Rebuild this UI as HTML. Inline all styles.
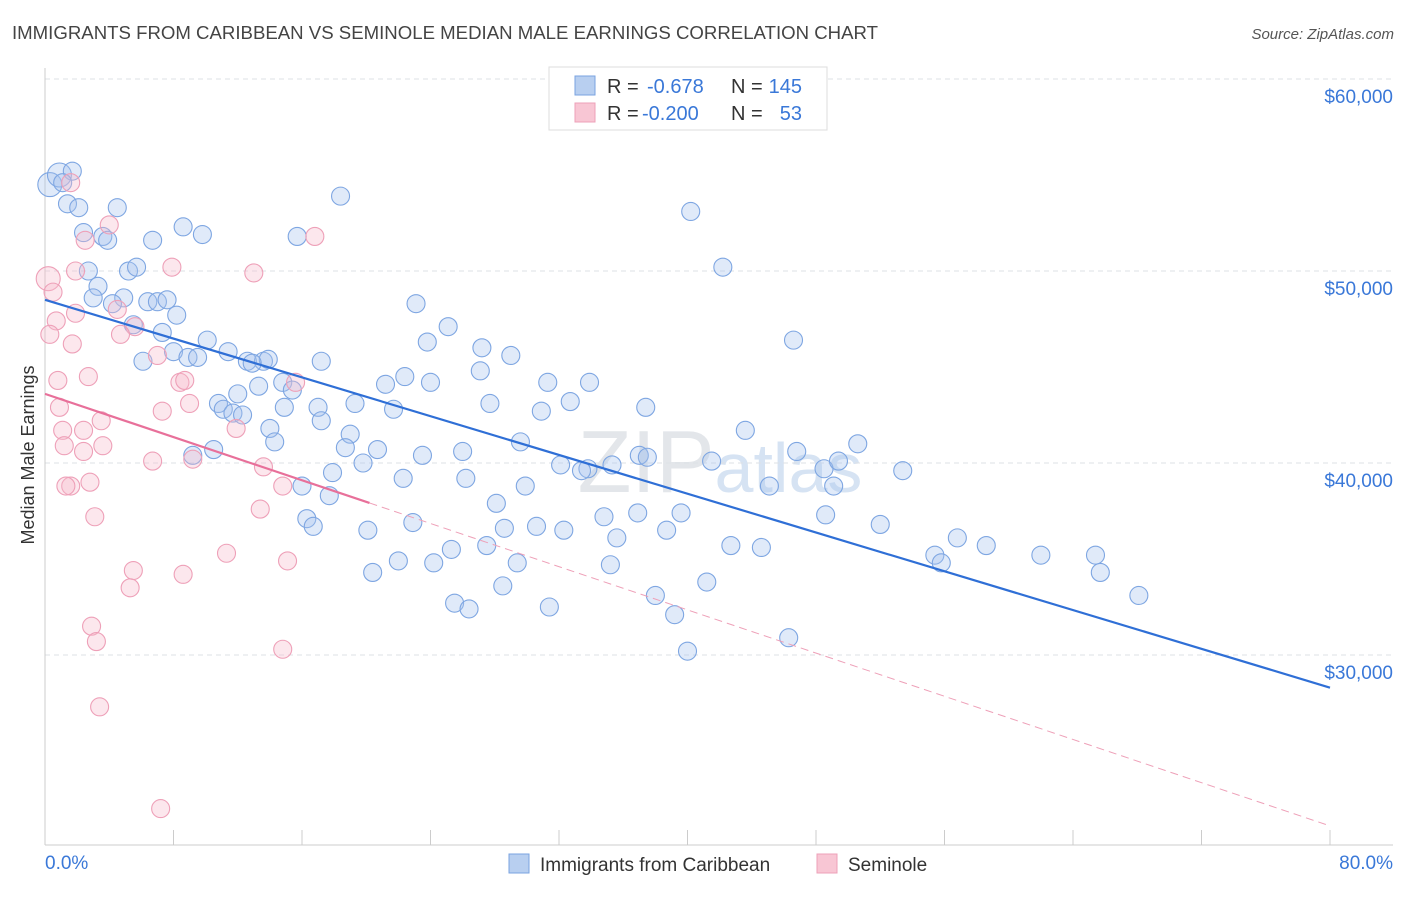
<!DOCTYPE html>
<html><head><meta charset="utf-8">
<style>
body{margin:0;background:#fff;font-family:"Liberation Sans",sans-serif;}
svg text{font-family:"Liberation Sans",sans-serif;}
</style></head><body>
<svg id="chart" width="1406" height="892" xmlns="http://www.w3.org/2000/svg">
<text x="12" y="39" font-size="18" fill="#444" textLength="866" lengthAdjust="spacingAndGlyphs">IMMIGRANTS FROM CARIBBEAN VS SEMINOLE MEDIAN MALE EARNINGS CORRELATION CHART</text>
<text x="1394" y="39" font-size="15" fill="#555" text-anchor="end" font-style="italic">Source: ZipAtlas.com</text>
<text x="720" y="492" font-size="88" fill="#e3e6ea" text-anchor="middle" font-family="Liberation Serif">ZIP<tspan fill="#d6e3f3" font-family="Liberation Sans" font-size="70">atlas</tspan></text>
<g id="grid"></g><g id="axes"></g><g id="pts"></g><g id="lines"></g>
<text transform="translate(34,455) rotate(-90)" font-size="18" fill="#333" text-anchor="middle">Median Male Earnings</text>
<g>
<rect x="549" y="67" width="278" height="63" fill="#fff" stroke="#ddd"/>
<rect x="575" y="76" width="20" height="19" fill="#b8cff0" stroke="#7aa3e0"/>
<rect x="575" y="103" width="20" height="19" fill="#f8c6d4" stroke="#eea0b8"/>
<text x="607" y="93" font-size="20" fill="#333">R =</text>
<text x="647" y="93" font-size="20" fill="#3a78d8">-0.678</text>
<text x="731" y="93" font-size="20" fill="#333">N =</text>
<text x="802" y="93" font-size="20" fill="#3a78d8" text-anchor="end">145</text>
<text x="607" y="120" font-size="20" fill="#333">R =</text>
<text x="642" y="120" font-size="20" fill="#3a78d8">-0.200</text>
<text x="731" y="120" font-size="20" fill="#333">N =</text>
<text x="802" y="120" font-size="20" fill="#3a78d8" text-anchor="end">53</text>
</g>
<g>
<rect x="509" y="854" width="20" height="19" fill="#b8cff0" stroke="#7aa3e0"/>
<text x="540" y="871" font-size="19" fill="#333">Immigrants from Caribbean</text>
<rect x="817" y="854" width="20" height="19" fill="#f8c6d4" stroke="#eea0b8"/>
<text x="848" y="871" font-size="19" fill="#333">Seminole</text>
</g>
</svg>
<script>
const blueX=[0.3,0.9,1.7,1.1,1.4,2.1,4.5,2.4,3.6,3.9,6.7,8.6,9.8,15.7,18.4,40.2,2.7,5.2,5.7,3.3,3.0,4.9,4.2,6.4,7.0,7.6,8.2,5.5,7.3,10.1,6.1,8.0,8.9,9.5,11.4,12.6,13.6,13.9,12.9,17.2,23.1,25.1,23.8,27.2,27.1,29.0,21.2,22.4,24.0,31.3,33.9,13.3,14.8,15.4,12.0,10.8,11.1,11.7,12.3,14.9,17.0,19.3,21.7,27.7,32.7,30.9,37.4,42.2,46.6,14.0,14.3,17.2,19.0,10.5,9.2,18.7,20.7,23.5,26.0,29.6,35.3,17.9,19.8,22.3,26.2,37.0,37.5,43.6,46.8,33.8,33.4,32.1,41.5,48.5,49.4,50.6,53.4,29.9,16.0,17.7,45.1,49.1,28.1,16.3,16.7,22.9,20.1,28.6,30.6,32.3,34.8,36.9,39.6,35.6,38.7,48.6,52.0,27.5,25.3,29.4,22.0,24.2,20.4,35.2,42.7,44.6,55.4,56.8,58.6,55.8,62.0,65.4,65.7,68.1,28.5,25.5,26.4,31.4,38.0,41.2,39.2,46.3,40.0];
const blueY=[54.5,55.0,55.2,54.6,53.5,53.3,53.3,52.0,51.8,51.6,51.6,52.3,51.9,51.8,53.9,53.1,50.0,50.0,50.2,49.2,48.6,48.6,48.3,48.4,48.4,48.5,47.7,47.2,46.8,46.4,45.3,45.8,45.5,45.5,45.8,45.3,45.3,45.4,45.2,45.3,48.3,47.1,46.3,46.0,44.8,45.6,44.1,44.5,44.2,44.2,44.2,44.0,44.2,43.8,43.6,43.1,42.8,42.6,42.5,42.9,42.9,43.1,42.8,43.1,43.2,42.7,42.9,50.2,46.4,41.8,41.1,42.2,41.5,40.7,40.4,40.8,40.7,40.4,40.6,41.1,39.9,39.5,40.0,39.2,39.2,40.4,40.3,41.7,40.6,39.7,39.6,39.9,40.1,39.7,40.1,41.0,39.6,38.8,38.8,38.3,38.8,38.8,37.9,37.1,36.7,36.9,36.5,36.6,36.7,36.5,37.2,37.4,37.4,36.1,36.5,37.3,36.8,35.7,35.5,34.8,34.9,34.8,34.3,34.7,35.7,35.6,35.2,36.1,35.7,34.8,35.2,35.2,34.3,33.1,33.6,32.7,32.4,32.5,33.1,33.8,32.1,30.9,30.2];
const pinkX=[0.2,0.5,1.6,2.5,4.0,1.9,7.9,13.0,16.8,0.7,1.9,0.3,1.7,4.5,5.6,4.7,7.0,0.8,2.7,8.4,8.7,0.9,7.3,9.0,11.9,3.5,1.1,2.4,1.2,2.4,3.6,9.2,6.7,13.6,1.6,1.3,2.8,14.8,3.1,13.4,11.3,15.1,5.5,5.3,8.6,2.9,3.2,14.8,3.4,7.2,15.6];
const pinkY=[49.6,48.9,54.6,51.6,52.4,50.0,50.2,49.9,51.8,47.4,47.8,46.7,46.2,48.0,47.1,46.7,45.6,44.3,44.5,44.2,44.3,42.9,42.7,43.1,41.8,42.2,41.7,41.7,40.9,40.6,40.9,40.2,40.1,39.8,38.8,38.8,39.0,38.8,37.2,37.6,35.3,34.9,34.4,33.5,34.2,31.5,30.7,30.3,27.3,22.0,44.2];
const blueTrend=[48.5,28.3];
const pinkTrend=[43.6,21.1];
const pinkSolidEnd=20.2;
const yTicks=[30000,40000,50000,60000];
const yTickLabels=["$30,000","$40,000","$50,000","$60,000"];
const xTicks=[0,8,16,24,32,40,48,56,64,72,80];

const NS="http://www.w3.org/2000/svg";
const X=v=>45+(v/80)*1285;
const Y=v=>79+(60-v)*19.2;
function mk(t,a,p){const e=document.createElementNS(NS,t);for(const k in a)e.setAttribute(k,a[k]);p.appendChild(e);return e;}
const grid=document.getElementById('grid'),axes=document.getElementById('axes'),pts=document.getElementById('pts'),lines=document.getElementById('lines');
yTicks.forEach((t,i)=>{
 const g=mk('line',{x1:45,x2:1393,y1:Y(t/1000),y2:Y(t/1000),stroke:'#dde1e6','stroke-dasharray':'5,4'},grid);
 
 
 const l=mk('text',{x:1393,y:Y(t/1000)+24,'font-size':19,fill:'#3a78d8','text-anchor':'end'},axes);
 l.textContent=yTickLabels[i];
 
 
});
const ya=mk('line',{x1:45,x2:45,y1:68,y2:845,stroke:'#ccc'},axes);


const xa=mk('line',{x1:45,x2:1393,y1:845,y2:845,stroke:'#ccc'},axes);


xTicks.forEach(t=>{
 const k=mk('line',{x1:X(t),x2:X(t),y1:830,y2:845,stroke:'#ccc'},axes);
 
 
});
const x0=mk('text',{x:45,y:869,'font-size':19,fill:'#3a78d8'},axes);x0.textContent="0.0%";


const x1=mk('text',{x:1393,y:869,'font-size':19,fill:'#3a78d8','text-anchor':'end'},axes);x1.textContent="80.0%";


blueX.forEach((v,i)=>{
 const c=mk('circle',{cx:X(v),cy:Y(blueY[i]),r:i<2?12:9,fill:'rgba(165,195,238,0.35)',stroke:'#7ea6e2','stroke-width':1.1},pts);
 
 
});
pinkX.forEach((v,i)=>{
 const c=mk('circle',{cx:X(v),cy:Y(pinkY[i]),r:i<1?12:9,fill:'rgba(246,185,204,0.35)',stroke:'#eea0b8','stroke-width':1.1},pts);
 
 
});
const bl=mk('line',{x1:X(0),y1:Y(blueTrend[0]),x2:X(80),y2:Y(blueTrend[1]),stroke:'#2f6fd6','stroke-width':2.2},lines);


const pAt=x=>pinkTrend[0]+(pinkTrend[1]-pinkTrend[0])*x/80;
const ps=mk('line',{x1:X(0),y1:Y(pAt(0)),x2:X(pinkSolidEnd),y2:Y(pAt(pinkSolidEnd)),stroke:'#e8709a','stroke-width':2.2},lines);


const pd=mk('line',{x1:X(pinkSolidEnd),y1:Y(pAt(pinkSolidEnd)),x2:X(80),y2:Y(pAt(80)),stroke:'#eea0b8','stroke-width':1,'stroke-dasharray':'8,5'},lines);


</script>
</body></html>
